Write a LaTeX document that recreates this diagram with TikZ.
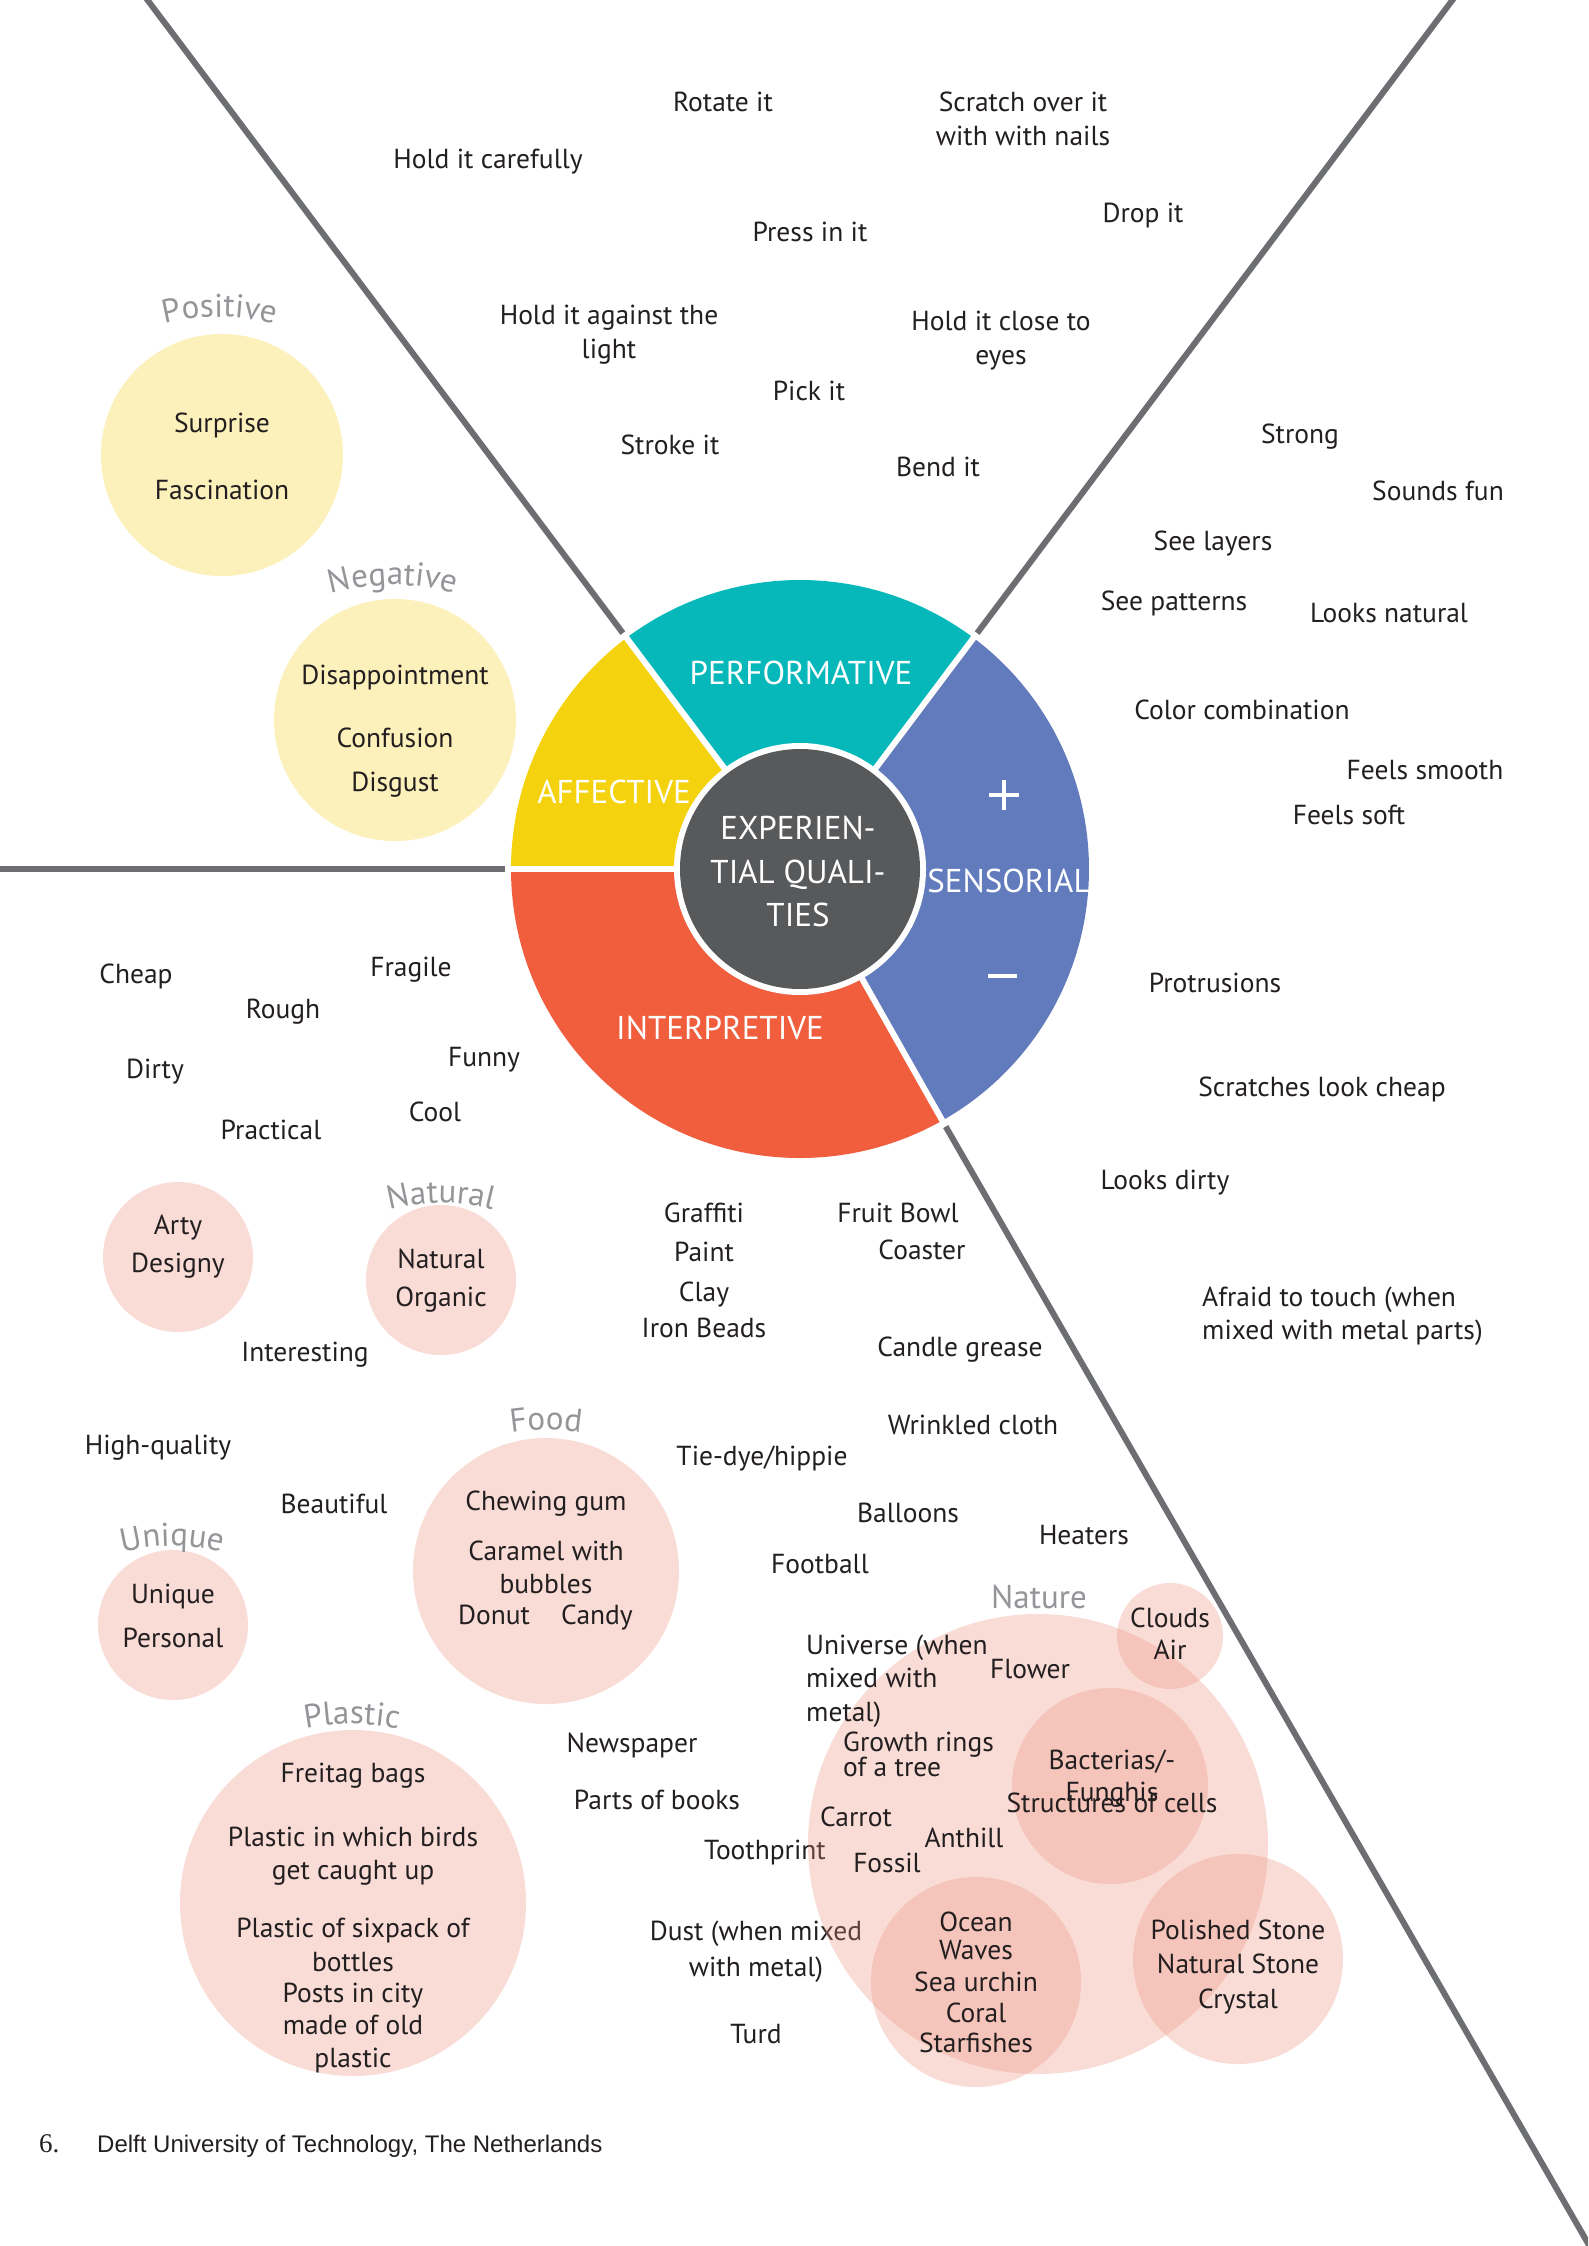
\documentclass[tikz,border=0pt]{standalone}
\usepackage{fontspec}
\setmainfont{PT Sans}
\newfontfamily\footsans{Liberation Sans}
\newfontfamily\footserif{Liberation Serif}
\usetikzlibrary{decorations.text,calc}

\definecolor{cTeal}{RGB}{7,184,187}
\definecolor{cYellow}{RGB}{244,210,14}
\definecolor{cBlue}{RGB}{98,123,188}
\definecolor{cRed}{RGB}{240,94,62}
\definecolor{cDark}{RGB}{88,89,91}
\definecolor{lgray}{RGB}{147,149,152}
\definecolor{txtblack}{RGB}{35,31,32}
\definecolor{divgray}{RGB}{109,110,113}
\definecolor{cPink}{RGB}{238,142,122}
\definecolor{cCream}{RGB}{252,241,186}

\newcommand\glabfont{\fontsize{33}{40}\selectfont}

\tikzset{
  tx/.style={anchor=base, text=txtblack, font=\fontsize{27.5}{33}\selectfont, inner sep=0pt},
  txl/.style={tx, anchor=base west},
  wlbl/.style={anchor=base, text=white, font=\fontsize{33}{40}\selectfont, inner sep=0pt},
  divider/.style={draw=divgray, line width=6pt},
  seam/.style={draw=white, line width=6pt},
  pinkdisc/.style={fill=cPink, fill opacity=0.3},
  creamdisc/.style={fill=cCream},
  signbar/.style={draw=white, line width=3.5pt}
}

% one line of text, centred; #3 is the visual middle of the line
\newcommand\qtxt[4]{\node[tx] (#1) at (#2,{-(#3)-9.5}) {#4};}
% one line of text, left aligned
\newcommand\qtxtl[4]{\node[txl] (#1) at (#2,{-(#3)-9.5}) {#4};}
% grey group title set on a gentle arc
\newcommand\glab[5]{%
  \coordinate (#1) at (#2,{-(#3)-11});
  \path[decorate,decoration={text along path,text align=center,text color=lgray,text={|\glabfont|#5}}]
    ($(#1)+(0,-#4)+(120:#4)$) arc[start angle=120,end angle=60,radius=#4];}

\begin{document}
\begin{tikzpicture}[x=1pt,y=1pt]
\useasboundingbox (0,0) rectangle (1588,-2246);
\fill[white] (0,0) rectangle (1588,-2246);
\clip (0,0) rectangle (1588,-2246);

\coordinate (C) at (800,-869);

% ---------- dividing lines ----------
\draw[divider] ($(C)+(126.9:295)$) -- ($(C)+(126.9:1300)$);
\draw[divider] ($(C)+(53.1:295)$) -- ($(C)+(53.1:1300)$);
\draw[divider] ($(C)+(180:295)$) -- ($(C)+(180:900)$);
\coordinate (L4a) at ($(C)+(-60.5:296)$);
\coordinate (L4b) at (1620,-2299);
\draw[divider] (L4a) -- (L4b);

% ---------- the wheel ----------
\begin{scope}[shift={(C)}]
  \fill[cTeal] (0,0) -- (53.1:289) arc[start angle=53.1,end angle=126.9,radius=289] -- cycle;
  \fill[cYellow] (0,0) -- (126.9:289) arc[start angle=126.9,end angle=180,radius=289] -- cycle;
  \fill[cRed] (0,0) -- (180:289) arc[start angle=180,end angle=299.5,radius=289] -- cycle;
  \fill[cBlue] (0,0) -- (-60.5:289) arc[start angle=-60.5,end angle=53.1,radius=289] -- cycle;
  \draw[seam] (0,0) -- (53.1:292);
  \draw[seam] (0,0) -- (126.9:292);
  \draw[seam] (0,0) -- (180:292);
  \draw[seam] (0,0) -- (-60.5:292);
  \begin{scope}
    \clip (0,0) circle[radius=289];
    \node[wlbl] (perf) at (1,{869-684}) {PERFORMATIVE};
    \node[wlbl] (affe) at (-186,{869-803}) {AFFECTIVE};
    \node[wlbl] (sens) at (209,{869-892}) {SENSORIAL};
    \node[wlbl] (inte) at (-80,{869-1039}) {INTERPRETIVE};
  \end{scope}
  \fill[white] (0,0) circle[radius=126];
  \fill[cDark] (0,0) circle[radius=120];
  \draw[signbar] (189,74) -- (219,74);
  \draw[signbar] (204,59) -- (204,89);
  \draw[signbar] (188,-107) -- (217,-107);
\end{scope}
\node[wlbl] (core1) at (798,-839) {EXPERIEN-};
\node[wlbl] (core2) at (798,-883) {TIAL QUALI-};
\node[wlbl] (core3) at (798,-926) {TIES};

% ---------- performative ----------
\qtxt{p1}{723}{102}{Rotate it}
\qtxt{p2}{1023}{102}{Scratch over it}
\qtxt{p3}{1023}{136}{with with nails}
\qtxt{p4}{488}{159}{Hold it carefully}
\qtxt{p5}{810}{232}{Press in it}
\qtxt{p6}{1143}{213}{Drop it}
\qtxt{p7}{609}{315}{Hold it against the}
\qtxt{p8}{609}{349}{light}
\qtxt{p9}{1001}{321}{Hold it close to}
\qtxt{p10}{1001}{355}{eyes}
\qtxt{p11}{809}{391}{Pick it}
\qtxt{p12}{670}{445}{Stroke it}
\qtxt{p13}{938}{467}{Bend it}

% ---------- sensorial ----------
\qtxt{s1}{1300}{434}{Strong}
\qtxt{s2}{1438}{491}{Sounds fun}
\qtxt{s3}{1213}{541}{See layers}
\qtxt{s4}{1174}{601}{See patterns}
\qtxt{s5}{1389}{613}{Looks natural}
\qtxt{s6}{1242}{710}{Color combination}
\qtxt{s7}{1425}{770}{Feels smooth}
\qtxt{s8}{1349}{815}{Feels soft}
\qtxt{s9}{1215}{983}{Protrusions}
\qtxt{s10}{1322}{1087}{Scratches look cheap}
\qtxt{s11}{1165}{1180}{Looks dirty}
\qtxtl{s12}{1202}{1297}{Afraid to touch (when}
\qtxtl{s13}{1202}{1330}{mixed with metal parts)}

% ---------- affective ----------
\fill[creamdisc] (222,-455) circle[radius=121];
\fill[creamdisc] (395,-720) circle[radius=121];
\glab{gpos}{220}{306}{230}{Positive}
\glab{gneg}{393}{574}{230}{Negative}
\qtxt{a1}{222}{423}{Surprise}
\qtxt{a2}{222}{490}{Fascination}
\qtxt{a3}{395}{675}{Disappointment}
\qtxt{a4}{395}{738}{Confusion}
\qtxt{a5}{395}{782}{Disgust}

% ---------- interpretive ----------
\fill[pinkdisc] (178,-1257) circle[radius=75];
\fill[pinkdisc] (441,-1280) circle[radius=75];
\fill[pinkdisc] (546,-1571) circle[radius=133];
\fill[pinkdisc] (173,-1625) circle[radius=75];
\fill[pinkdisc] (353,-1903) circle[radius=173];

\qtxt{i1}{136}{974}{Cheap}
\qtxt{i2}{411}{967}{Fragile}
\qtxt{i3}{283}{1009}{Rough}
\qtxt{i4}{155}{1069}{Dirty}
\qtxt{i5}{484}{1057}{Funny}
\qtxt{i6}{435}{1112}{Cool}
\qtxt{i7}{271}{1130}{Practical}
\glab{gnat}{441}{1192}{200}{Natural}
\qtxt{i8}{178}{1225}{Arty}
\qtxt{i9}{178}{1263}{Designy}
\qtxt{i10}{441}{1259}{Natural}
\qtxt{i11}{441}{1297}{Organic}
\qtxt{i12}{305}{1352}{Interesting}
\qtxt{i13}{704}{1213}{Graffiti}
\qtxt{i14}{704}{1252}{Paint}
\qtxt{i15}{704}{1292}{Clay}
\qtxt{i16}{704}{1328}{Iron Beads}
\qtxt{i17}{898}{1213}{Fruit Bowl}
\qtxt{i18}{922}{1250}{Coaster}
\qtxt{i19}{960}{1347}{Candle grease}
\qtxt{i20}{973}{1425}{Wrinkled cloth}
\qtxt{i21}{158}{1445}{High-quality}
\glab{gfood}{546}{1419}{220}{Food}
\qtxt{i22}{546}{1501}{Chewing gum}
\qtxt{i23}{546}{1551}{Caramel with}
\qtxt{i24}{546}{1584}{bubbles}
\qtxt{i25}{494}{1615}{Donut}
\qtxt{i26}{597}{1615}{Candy}
\qtxt{i27}{334}{1504}{Beautiful}
\qtxt{i28}{762}{1456}{Tie-dye/hippie}
\qtxt{i29}{908}{1513}{Balloons}
\qtxt{i30}{1084}{1535}{Heaters}
\qtxt{i31}{820}{1564}{Football}
\glab{guni}{172}{1535}{200}{Unique}
\qtxt{i32}{173}{1594}{Unique}
\qtxt{i33}{173}{1638}{Personal}
\glab{gpla}{352}{1713}{240}{Plastic}
\qtxt{i34}{353}{1773}{Freitag bags}
\qtxt{i35}{353}{1837}{Plastic in which birds}
\qtxt{i36}{353}{1870}{get caught up}
\qtxt{i37}{353}{1928}{Plastic of sixpack of}
\qtxt{i38}{353}{1962}{bottles}
\qtxt{i39}{353}{1993}{Posts in city}
\qtxt{i40}{353}{2025}{made of old}
\qtxt{i41}{353}{2058}{plastic}
\qtxt{i42}{632}{1743}{Newspaper}
\qtxt{i43}{657}{1800}{Parts of books}
\qtxt{i44}{765}{1850}{Toothprint}
\qtxt{i45}{756}{1931}{Dust (when mixed}
\qtxt{i46}{756}{1967}{with metal)}
\qtxt{i47}{756}{2034}{Turd}

% ---------- nature cluster ----------
\fill[pinkdisc] (1038,-1844) circle[radius=230];
\fill[pinkdisc] (1170,-1636) circle[radius=53];
\fill[pinkdisc] (1110,-1786) circle[radius=98];
\fill[pinkdisc] (976,-1982) circle[radius=105];
\fill[pinkdisc] (1238,-1959) circle[radius=105];
\node[anchor=base, text=lgray, font=\glabfont, inner sep=0pt] (gnature) at (1039,-1608) {Nature};
\qtxt{n1}{1170}{1618}{Clouds}
\qtxt{n2}{1170}{1650}{Air}
\qtxt{n3}{1112}{1760}{Bacterias/-}
\qtxt{n4}{1112}{1792}{Funghis}
\qtxt{n5}{1112}{1803}{Structures of cells}
\qtxt{n6}{976}{1922}{Ocean}
\qtxt{n7}{976}{1950}{Waves}
\qtxt{n8}{976}{1982}{Sea urchin}
\qtxt{n9}{976}{2013}{Coral}
\qtxt{n10}{976}{2043}{Starfishes}
\qtxt{n11}{1238}{1930}{Polished Stone}
\qtxt{n12}{1238}{1964}{Natural Stone}
\qtxt{n13}{1238}{1999}{Crystal}
\qtxtl{n14}{806}{1645}{Universe (when}
\qtxtl{n15}{806}{1678}{mixed with}
\qtxtl{n16}{806}{1712}{metal)}
\qtxt{n17}{1030}{1669}{Flower}
\qtxtl{n18}{843}{1742}{Growth rings}
\qtxtl{n19}{843}{1767}{of a tree}
\qtxt{n20}{856}{1817}{Carrot}
\qtxt{n21}{964}{1838}{Anthill}
\qtxt{n22}{887}{1863}{Fossil}

% ---------- footer ----------
\node[anchor=base west, inner sep=0pt, text=txtblack, font=\footserif\fontsize{27}{32}\selectfont] (pagenum) at (39,-2152) {6.};
\node[anchor=base west, inner sep=0pt, text=txtblack, font=\footsans\fontsize{24}{29}\selectfont] (credit) at (97,-2152) {Delft University of Technology, The Netherlands};
\end{tikzpicture}
\end{document}
